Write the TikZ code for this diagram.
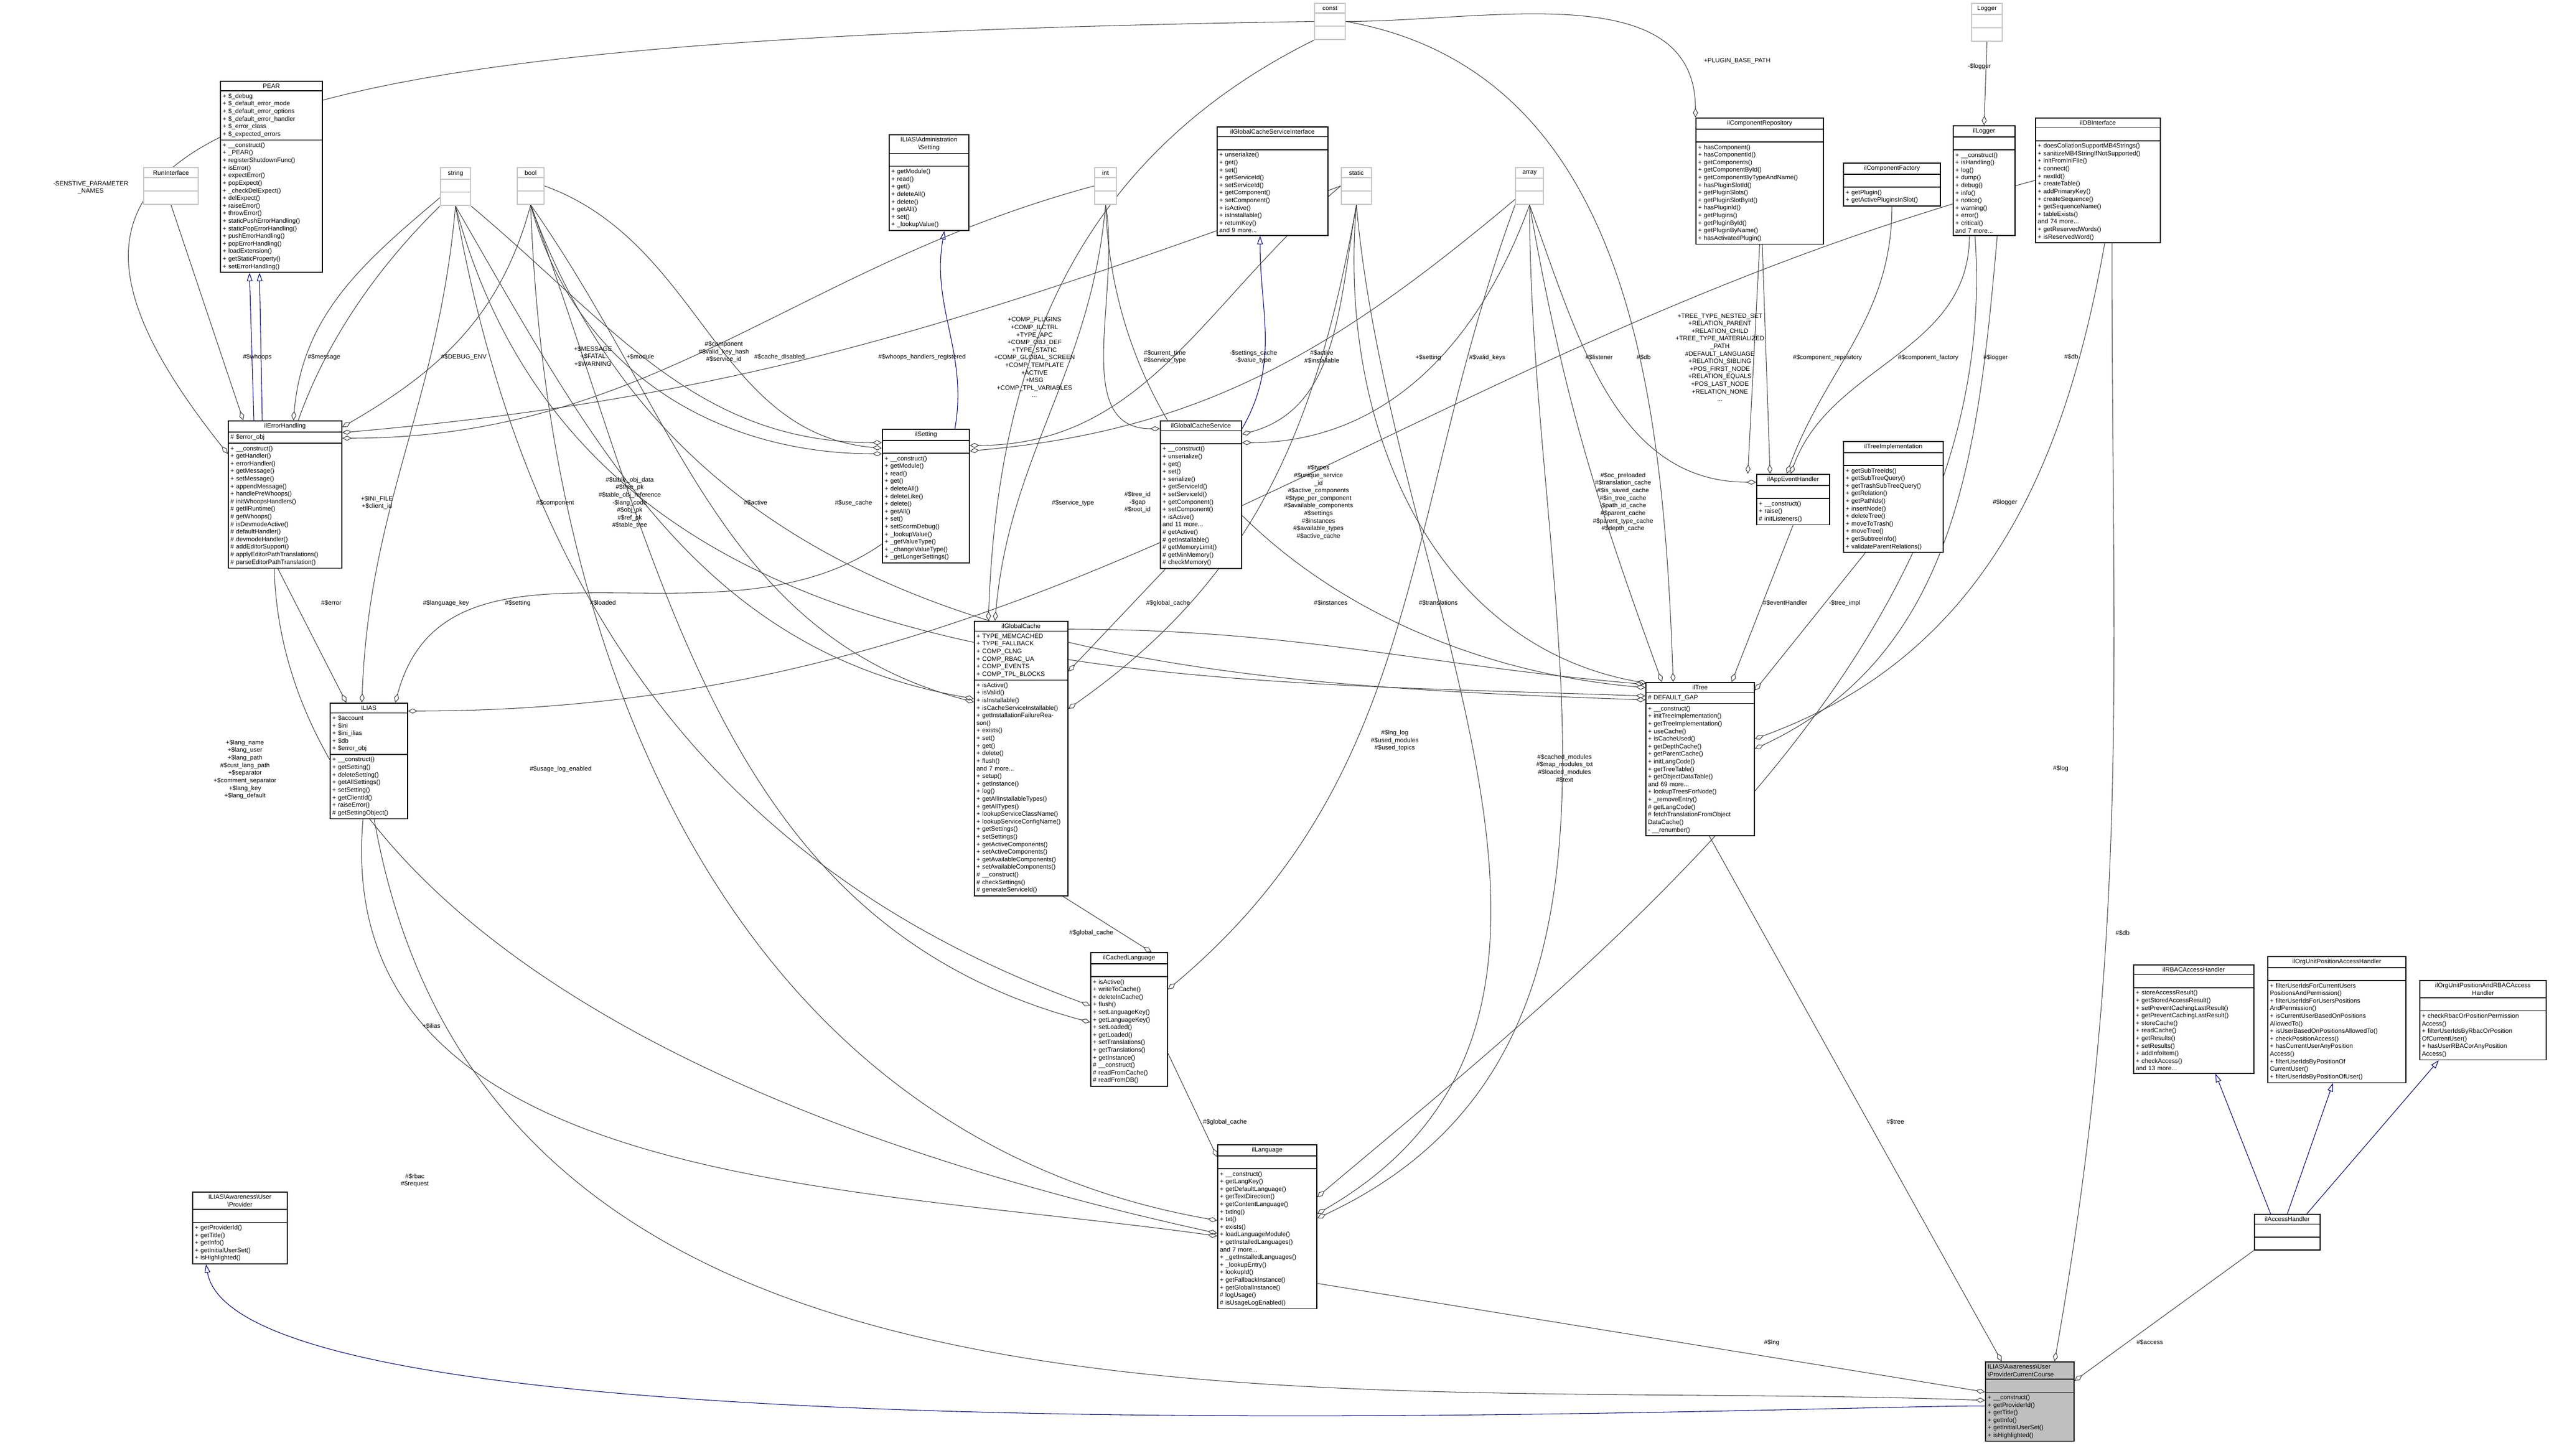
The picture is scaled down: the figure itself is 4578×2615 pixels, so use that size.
\documentclass[tikz,border=0pt]{standalone}
\usepackage{fontspec}
\setmainfont{Liberation Sans}
\usetikzlibrary{shapes.multipart,arrows.meta,calc}
\pgfdeclarelayer{background}
\pgfsetlayers{background,main}
\newcommand\dfont{\fontsize{3.2}{3.87}\selectfont}
\newcommand\hd[1]{{\centering #1\par}}

\tikzset{
  cls/.style={draw, line width=0.45pt, rectangle split, rectangle split parts=3,
    anchor=north west, text width=#1, align=left, inner xsep=0.04cm,
    inner ysep=0.04cm, font=\dfont, fill=white},
  prim/.style={cls=#1, draw=black!22, line width=0.6pt},
  agg/.style={draw=black!75, line width=0.3pt,
    -{Diamond[open,length=0.17cm,width=0.09cm]}},
  inh/.style={draw=blue!45!black, line width=0.3pt,
    -{Triangle[open,length=0.15cm,width=0.1cm]}},
  lbl/.style={font=\dfont, align=center, inner sep=0pt}
}

\begin{document}
\begin{tikzpicture}[x=0.01cm,y=-0.01cm]
\useasboundingbox (0,0) rectangle (4578,2615);

% types without members
\node[prim=0.9cm] (rune) at (257,300) {\hd{RunInterface}\nodepart{two}\strut\nodepart{three}\strut};
\node[prim=0.46cm] (strg) at (790,300) {\hd{string}\nodepart{two}\strut\nodepart{three}\strut};
\node[prim=0.40cm] (bool) at (928,300) {\hd{bool}\nodepart{two}\strut\nodepart{three}\strut};
\node[prim=0.31cm] (intt) at (1965,300) {\hd{int}\nodepart{two}\strut\nodepart{three}\strut};
\node[prim=0.46cm] (stat) at (2408,300) {\hd{static}\nodepart{two}\strut\nodepart{three}\strut};
\node[prim=0.42cm] (arry) at (2721,300) {\hd{array}\nodepart{two}\strut\nodepart{three}\strut};
\node[prim=0.47cm] (cnst) at (2360,5) {\hd{const}\nodepart{two}\strut\nodepart{three}\strut};
\node[prim=0.47cm] (lggr) at (3540,5) {\hd{Logger}\nodepart{two}\strut\nodepart{three}\strut};

% classes
\node[cls=1.75cm] (pear) at (395,145) {\hd{PEAR}
  \nodepart{two}+ \$\_debug\\+ \$\_default\_error\_mode\\+ \$\_default\_error\_options\\+ \$\_default\_error\_handler\\+ \$\_error\_class\\+ \$\_expected\_errors
  \nodepart{three}+ \_\_construct()\\+ \_PEAR()\\+ registerShutdownFunc()\\+ isError()\\+ expectError()\\+ popExpect()\\+ \_checkDelExpect()\\+ delExpect()\\+ raiseError()\\+ throwError()\\+ staticPushErrorHandling()\\+ staticPopErrorHandling()\\+ pushErrorHandling()\\+ popErrorHandling()\\+ loadExtension()\\+ getStaticProperty()\\+ setErrorHandling()};
\node[cls=1.96cm] (errh) at (409,755) {\hd{ilErrorHandling}
  \nodepart{two}\# \$error\_obj
  \nodepart{three}+ \_\_construct()\\+ getHandler()\\+ errorHandler()\\+ getMessage()\\+ setMessage()\\+ appendMessage()\\+ handlePreWhoops()\\\# initWhoopsHandlers()\\\# getIlRuntime()\\\# getWhoops()\\\# isDevmodeActive()\\\# defaultHandler()\\\# devmodeHandler()\\\# addEditorSupport()\\\# applyEditorPathTranslations()\\\# parseEditorPathTranslation()};
\node[cls=1.31cm] (ilias) at (592,1262) {\hd{ILIAS}
  \nodepart{two}+ \$account\\+ \$ini\\+ \$ini\_ilias\\+ \$db\\+ \$error\_obj
  \nodepart{three}+ \_\_construct()\\+ getSetting()\\+ deleteSetting()\\+ getAllSettings()\\+ setSetting()\\+ getClientId()\\+ raiseError()\\\# getSettingObject()};
\node[cls=1.35cm] (admin) at (1596,241) {\hd{ILIAS\textbackslash Administration\\\textbackslash Setting}
  \nodepart{two}\strut
  \nodepart{three}+ getModule()\\+ read()\\+ get()\\+ deleteAll()\\+ delete()\\+ getAll()\\+ set()\\+ \_lookupValue()};
\node[cls=1.48cm] (sett) at (1584,770) {\hd{ilSetting}
  \nodepart{two}\strut
  \nodepart{three}+ \_\_construct()\\+ getModule()\\+ read()\\+ get()\\+ deleteAll()\\+ deleteLike()\\+ delete()\\+ getAll()\\+ set()\\+ setScormDebug()\\+ \_lookupValue()\\+ \_getValueType()\\+ \_changeValueType()\\+ \_getLongerSettings()};
\node[cls=1.91cm] (gcsi) at (2185,227) {\hd{ilGlobalCacheServiceInterface}
  \nodepart{two}\strut
  \nodepart{three}+ unserialize()\\+ get()\\+ set()\\+ getServiceId()\\+ setServiceId()\\+ getComponent()\\+ setComponent()\\+ isActive()\\+ isInstallable()\\+ returnKey()\\and 9 more...};
\node[cls=1.38cm] (gcs) at (2083,755) {\hd{ilGlobalCacheService}
  \nodepart{two}\strut
  \nodepart{three}+ \_\_construct()\\+ unserialize()\\+ get()\\+ set()\\+ serialize()\\+ getServiceId()\\+ setServiceId()\\+ getComponent()\\+ setComponent()\\+ isActive()\\and 11 more...\\\# getActive()\\\# getInstallable()\\\# getMemoryLimit()\\\# getMinMemory()\\\# checkMemory()};
\node[cls=1.60cm] (glc) at (1749,1115) {\hd{ilGlobalCache}
  \nodepart{two}+ TYPE\_MEMCACHED\\+ TYPE\_FALLBACK\\+ COMP\_CLNG\\+ COMP\_RBAC\_UA\\+ COMP\_EVENTS\\+ COMP\_TPL\_BLOCKS
  \nodepart{three}+ isActive()\\+ isValid()\\+ isInstallable()\\+ isCacheServiceInstallable()\\+ getInstallationFailureReason()\\+ exists()\\+ set()\\+ get()\\+ delete()\\+ flush()\\and 7 more...\\+ setup()\\+ getInstance()\\+ log()\\+ getAllInstallableTypes()\\+ getAllTypes()\\+ lookupServiceClassName()\\+ lookupServiceConfigName()\\+ getSettings()\\+ setSettings()\\+ getActiveComponents()\\+ setActiveComponents()\\+ getAvailableComponents()\\+ setAvailableComponents()\\\# \_\_construct()\\\# checkSettings()\\\# generateServiceId()};
\node[cls=2.21cm] (crep) at (3045,211) {\hd{ilComponentRepository}
  \nodepart{two}\strut
  \nodepart{three}+ hasComponent()\\+ hasComponentId()\\+ getComponents()\\+ getComponentById()\\+ getComponentByTypeAndName()\\+ hasPluginSlotId()\\+ getPluginSlots()\\+ getPluginSlotById()\\+ hasPluginId()\\+ getPlugins()\\+ getPluginById()\\+ getPluginByName()\\+ hasActivatedPlugin()};
\node[cls=1.66cm] (cfac) at (3310,292) {\hd{ilComponentFactory}
  \nodepart{two}\strut
  \nodepart{three}+ getPlugin()\\+ getActivePluginsInSlot()};
\node[cls=1.03cm] (ilog) at (3507,225) {\hd{ilLogger}
  \nodepart{two}\strut
  \nodepart{three}+ \_\_construct()\\+ isHandling()\\+ log()\\+ dump()\\+ debug()\\+ info()\\+ notice()\\+ warning()\\+ error()\\+ critical()\\and 7 more...};
\node[cls=2.16cm] (dbi) at (3655,211) {\hd{ilDBInterface}
  \nodepart{two}\strut
  \nodepart{three}+ doesCollationSupportMB4Strings()\\+ sanitizeMB4StringIfNotSupported()\\+ initFromIniFile()\\+ connect()\\+ nextId()\\+ createTable()\\+ addPrimaryKey()\\+ createSequence()\\+ getSequenceName()\\+ tableExists()\\and 74 more...\\+ getReservedWords()\\+ isReservedWord()};
\node[cls=1.23cm] (appe) at (3154,851) {\hd{ilAppEventHandler}
  \nodepart{two}\strut
  \nodepart{three}+ \_\_construct()\\+ raise()\\\# initListeners()};
\node[cls=1.71cm] (timp) at (3310,792) {\hd{ilTreeImplementation}
  \nodepart{two}\strut
  \nodepart{three}+ getSubTreeIds()\\+ getSubTreeQuery()\\+ getTrashSubTreeQuery()\\+ getRelation()\\+ getPathIds()\\+ insertNode()\\+ deleteTree()\\+ moveToTrash()\\+ moveTree()\\+ getSubtreeInfo()\\+ validateParentRelations()};
\node[cls=1.87cm] (tree) at (2955,1225) {\hd{ilTree}
  \nodepart{two}\# DEFAULT\_GAP
  \nodepart{three}+ \_\_construct()\\+ initTreeImplementation()\\+ getTreeImplementation()\\+ useCache()\\+ isCacheUsed()\\+ getDepthCache()\\+ getParentCache()\\+ initLangCode()\\+ getTreeTable()\\+ getObjectDataTable()\\and 69 more...\\+ lookupTreesForNode()\\+ \_removeEntry()\\\# getLangCode()\\\# fetchTranslationFromObject\\DataCache()\\- \_\_renumber()};
\node[cls=1.30cm] (cl) at (1958,1710) {\hd{ilCachedLanguage}
  \nodepart{two}\strut
  \nodepart{three}+ isActive()\\+ writeToCache()\\+ deleteInCache()\\+ flush()\\+ setLanguageKey()\\+ getLanguageKey()\\+ setLoaded()\\+ getLoaded()\\+ setTranslations()\\+ getTranslations()\\+ getInstance()\\\# \_\_construct()\\\# readFromCache()\\\# readFromDB()};
\node[cls=1.70cm] (lang) at (2186,2055) {\hd{ilLanguage}
  \nodepart{two}\strut
  \nodepart{three}+ \_\_construct()\\+ getLangKey()\\+ getDefaultLanguage()\\+ getTextDirection()\\+ getContentLanguage()\\+ txtlng()\\+ txt()\\+ exists()\\+ loadLanguageModule()\\+ getInstalledLanguages()\\and 7 more...\\+ \_getInstalledLanguages()\\+ \_lookupEntry()\\+ lookupId()\\+ getFallbackInstance()\\+ getGlobalInstance()\\\# logUsage()\\\# isUsageLogEnabled()};
\node[cls=2.08cm] (rbac) at (3831,1732) {\hd{ilRBACAccessHandler}
  \nodepart{two}\strut
  \nodepart{three}+ storeAccessResult()\\+ getStoredAccessResult()\\+ setPreventCachingLastResult()\\+ getPreventCachingLastResult()\\+ storeCache()\\+ readCache()\\+ getResults()\\+ setResults()\\+ addInfoItem()\\+ checkAccess()\\and 13 more...};
\node[cls=2.40cm] (oupa) at (4072,1717) {\hd{ilOrgUnitPositionAccessHandler}
  \nodepart{two}\strut
  \nodepart{three}+ filterUserIdsForCurrentUsers\\PositionsAndPermission()\\+ filterUserIdsForUsersPositions\\AndPermission()\\+ isCurrentUserBasedOnPositions\\AllowedTo()\\+ isUserBasedOnPositionsAllowedTo()\\+ checkPositionAccess()\\+ hasCurrentUserAnyPosition\\Access()\\+ filterUserIdsByPositionOf\\CurrentUser()\\+ filterUserIdsByPositionOfUser()};
\node[cls=2.19cm] (ourb) at (4345,1760) {\hd{ilOrgUnitPositionAndRBACAccess\\Handler}
  \nodepart{two}\strut
  \nodepart{three}+ checkRbacOrPositionPermission\\Access()\\+ filterUserIdsByRbacOrPosition\\OfCurrentUser()\\+ hasUserRBACorAnyPosition\\Access()};
\node[cls=1.10cm] (acch) at (4048,2180) {\hd{ilAccessHandler}\nodepart{two}\strut\nodepart{three}\strut};
\node[cls=1.62cm] (prov) at (345,2140) {\hd{ILIAS\textbackslash Awareness\textbackslash User\\\textbackslash Provider}
  \nodepart{two}\strut
  \nodepart{three}+ getProviderId()\\+ getTitle()\\+ getInfo()\\+ getInitialUserSet()\\+ isHighlighted()};
\node[cls=1.51cm, fill=black!25] (main) at (3565,2445) {ILIAS\textbackslash Awareness\textbackslash User\\\textbackslash ProviderCurrentCourse
  \nodepart{two}\strut
  \nodepart{three}+ \_\_construct()\\+ getProviderId()\\+ getTitle()\\+ getInfo()\\+ getInitialUserSet()\\+ isHighlighted()};

% member labels
\node[lbl] (lsens) at (163,337) {-SENSTIVE\_PARAMETER\\\_NAMES};
\node[lbl] (lwhoops) at (462,641) {\#\$whoops};
\node[lbl] (lmsg) at (582,641) {\#\$message};
\node[lbl] (ldebug) at (833,641) {\#\$DEBUG\_ENV};
\node[lbl] (lfatal) at (1065,640) {+\$MESSAGE\\+\$FATAL\\+\$WARNING};
\node[lbl] (lmod) at (1150,641) {+\$module};
\node[lbl] (lcomp) at (1300,632) {\#\$component\\\#\$valid\_key\_hash\\\#\$service\_id};
\node[lbl] (lcdis) at (1400,641) {\#\$cache\_disabled};
\node[lbl] (lwhr) at (1656,641) {\#\$whoops\_handlers\_registered};
\node[lbl] (lcpl) at (1858,642) {+COMP\_PLUGINS\\+COMP\_ILCTRL\\+TYPE\_APC\\+COMP\_OBJ\_DEF\\+TYPE\_STATIC\\+COMP\_GLOBAL\_SCREEN\\+COMP\_TEMPLATE\\+ACTIVE\\+MSG\\+COMP\_TPL\_VARIABLES\\...};
\node[lbl] (lctime) at (2092,641) {\#\$current\_time\\\#\$service\_type};
\node[lbl] (lscache) at (2251,641) {-\$settings\_cache\\-\$value\_type};
\node[lbl] (lact) at (2374,641) {\#\$active\\\#\$installable};
\node[lbl] (lsetg) at (2565,642) {+\$setting};
\node[lbl] (lvkeys) at (2671,642) {\#\$valid\_keys};
\node[lbl] (llist) at (2872,642) {\#\$listener};
\node[lbl] (ldb1) at (2952,642) {\#\$db};
\node[lbl] (ltt) at (3089,642) {+TREE\_TYPE\_NESTED\_SET\\+RELATION\_PARENT\\+RELATION\_CHILD\\+TREE\_TYPE\_MATERIALIZED\\\_PATH\\\#DEFAULT\_LANGUAGE\\+RELATION\_SIBLING\\+POS\_FIRST\_NODE\\+RELATION\_EQUALS\\+POS\_LAST\_NODE\\+RELATION\_NONE\\...};
\node[lbl] (lcrep) at (3282,642) {\#\$component\_repository};
\node[lbl] (lcfac) at (3463,642) {\#\$component\_factory};
\node[lbl] (llog1) at (3584,642) {\#\$logger};
\node[lbl] (ldb2) at (3720,641) {\#\$db};
\node[lbl] (lpbp) at (3120,110) {+PLUGIN\_BASE\_PATH};
\node[lbl] (llgr) at (3555,120) {-\$logger};
\node[lbl] (lini) at (677,903) {+\$INI\_FILE\\+\$client\_id};
\node[lbl] (lcomp2) at (997,903) {\#\$component};
\node[lbl] (ltab) at (1131,903) {\#\$table\_obj\_data\\\#\$tree\_pk\\\#\$table\_obj\_reference\\-\$lang\_code\\\#\$obj\_pk\\\#\$ref\_pk\\\#\$table\_tree};
\node[lbl] (lact2) at (1357,903) {\#\$active};
\node[lbl] (lusec) at (1533,903) {\#\$use\_cache};
\node[lbl] (lstype) at (1927,903) {\#\$service\_type};
\node[lbl] (ltid) at (2043,902) {\#\$tree\_id\\-\$gap\\\#\$root\_id};
\node[lbl] (ltypes) at (2368,902) {\#\$types\\\#\$unique\_service\\\_id\\\#\$active\_components\\\#\$type\_per\_component\\\#\$available\_components\\\#\$settings\\\#\$instances\\\#\$available\_types\\\#\$active\_cache};
\node[lbl] (loc) at (2915,902) {\#\$oc\_preloaded\\\#\$translation\_cache\\\#\$is\_saved\_cache\\\#\$in\_tree\_cache\\-\$path\_id\_cache\\\#\$parent\_cache\\\#\$parent\_type\_cache\\\#\$depth\_cache};
\node[lbl] (llog2) at (3601,902) {\#\$logger};
\node[lbl] (lerr) at (595,1083) {\#\$error};
\node[lbl] (llkey) at (801,1083) {\#\$language\_key};
\node[lbl] (lsetg2) at (930,1083) {\#\$setting};
\node[lbl] (lload) at (1083,1083) {\#\$loaded};
\node[lbl] (lgc1) at (2098,1083) {\#\$global\_cache};
\node[lbl] (linst) at (2390,1083) {\#\$instances};
\node[lbl] (ltrans) at (2583,1083) {\#\$translations};
\node[lbl] (levh) at (3206,1083) {\#\$eventHandler};
\node[lbl] (ltimp) at (3313,1083) {-\$tree\_impl};
\node[lbl] (llngl) at (2505,1330) {\#\$lng\_log\\\#\$used\_modules\\\#\$used\_topics};
\node[lbl] (lcmod) at (2810,1380) {\#\$cached\_modules\\\#\$map\_modules\_txt\\\#\$loaded\_modules\\\#\$text};
\node[lbl] (llog3) at (3701,1380) {\#\$log};
\node[lbl] (llangn) at (440,1382) {+\$lang\_name\\+\$lang\_user\\+\$lang\_path\\\#\$cust\_lang\_path\\+\$separator\\+\$comment\_separator\\+\$lang\_key\\+\$lang\_default};
\node[lbl] (lusage) at (1007,1381) {\#\$usage\_log\_enabled};
\node[lbl] (lgc2) at (1960,1675) {\#\$global\_cache};
\node[lbl] (ldb3) at (3812,1676) {\#\$db};
\node[lbl] (lilias) at (775,1843) {+\$ilias};
\node[lbl] (lrbac) at (745,2120) {\#\$rbac\\\#\$request};
\node[lbl] (lgc3) at (2200,2015) {\#\$global\_cache};
\node[lbl] (ltree) at (3404,2015) {\#\$tree};
\node[lbl] (llng) at (3182,2411) {\#\$lng};
\node[lbl] (lacc) at (3861,2411) {\#\$access};

\begin{pgfonlayer}{background}
% inheritance
\draw[inh] ($(errh.north west)+(47,0)$) -- ($(pear.south west)+(53,0)$);
\draw[inh] ($(errh.north west)+(62,0)$) -- ($(pear.south west)+(71,0)$);
\draw[inh] ($(sett.north west)+(131,0)$) to[out=80,in=-100] ($(admin.south west)+(100,0)$);
\draw[inh] ($(gcs.north east)+(0,15)$) to[out=60,in=-90] ($(gcsi.south west)+(78,0)$);
\draw[inh] ($(acch.north west)+(30,0)$) -- ($(rbac.south west)+(148,0)$);
\draw[inh] ($(acch.north west)+(60,0)$) -- ($(oupa.south west)+(118,0)$);
\draw[inh] ($(acch.north west)+(95,0)$) -- ($(ourb.south west)+(35,0)$);
\draw[inh] ($(main.north west)+(0,80)$) to[out=180,in=-80,looseness=0.3] ($(prov.south west)+(25,0)$);

% members of ilErrorHandling and ILIAS
\draw[agg] (rune.south) -- ($(errh.north west)+(28,0)$);
\draw[agg] ($(strg.south west)+(0,-15)$) to[out=220,in=85] ($(errh.north west)+(118,0)$);
\draw[agg] (bool.south) to[out=-105,in=30] ($(errh.north east)+(0,12)$);
\draw[agg] (cnst.west) .. controls (300,70) and (-40,250) .. ($(errh.north west)+(0,60)$);
\draw[agg] (stat.west) to[out=200,in=5] ($(errh.north east)+(0,22)$);
\draw[agg] (intt.west) to[out=195,in=0] ($(errh.north east)+(0,32)$);
\draw[agg] ($(errh.south west)+(90,0)$) -- ($(ilias.north west)+(30,0)$);
\draw[agg] (strg.south) to[out=-95,in=88] ($(ilias.north west)+(58,0)$);
\draw[agg] ($(sett.south west)+(0,-35)$) to[out=215,in=75] ($(ilias.north west)+(118,0)$);

% members of ilSetting and ilGlobalCacheService
\draw[agg] (strg.south east) to[out=-40,in=180] ($(sett.north west)+(0,25)$);
\draw[agg] (bool.east) to[out=-20,in=175] ($(sett.north west)+(0,35)$);
\draw[agg] (bool.south) to[out=-75,in=180] ($(sett.north west)+(0,45)$);
\draw[agg] (stat.west) to[out=220,in=0] ($(sett.north east)+(0,30)$);
\draw[agg] ($(arry.south west)+(0,-10)$) to[out=220,in=5] ($(sett.north east)+(0,40)$);
\draw[agg] (intt.south) to[out=-80,in=180] ($(gcs.north west)+(0,15)$);
\draw[agg] (stat.south) to[out=-100,in=15] ($(gcs.north east)+(0,25)$);
\draw[agg] (arry.south) to[out=-110,in=0] ($(gcs.north east)+(0,40)$);

% members of ilGlobalCache, ilCachedLanguage, ilLanguage
\draw[agg] (cnst.south west) .. controls (1900,300) and (1790,700) .. ($(glc.north west)+(26,0)$);
\draw[agg] (intt.south) to[out=-95,in=85] ($(glc.north west)+(38,0)$);
\draw[agg] (strg.south) to[out=-60,in=170] ($(glc.north west)+(0,140)$);
\draw[agg] (bool.south) to[out=-55,in=165] ($(glc.north west)+(0,146)$);
\draw[agg] ($(gcs.south west)+(10,0)$) -- ($(glc.north east)+(0,91)$);
\draw[agg] (stat.south) to[out=-100,in=35] ($(glc.north east)+(0,158)$);
\draw[agg] ($(glc.south east)+(-10,0)$) -- ($(cl.north west)+(110,0)$);
\draw[agg] (strg.south) to[out=-80,in=160] ($(cl.north west)+(0,96)$);
\draw[agg] (bool.south) to[out=-70,in=165] ($(cl.north west)+(0,126)$);
\draw[agg] (arry.south west) to[out=-110,in=40] ($(cl.north east)+(0,67)$);
\draw[agg] ($(cl.south east)+(0,-60)$) -- ($(lang.north west)+(0,23)$);
\draw[agg] (strg.south west) .. controls (250,900) and (300,1800) .. ($(lang.north west)+(0,160)$);
\draw[agg] (bool.south) to[out=-88,in=170] ($(lang.north west)+(0,137)$);
\draw[agg] ($(ilias.south west)+(60,0)$) to[out=-95,in=172] ($(lang.north west)+(0,165)$);
\draw[agg] ($(ilog.south west)+(40,0)$) .. controls (3600,1150) and (2900,1700) .. ($(lang.north east)+(0,95)$);
\draw[agg] (stat.south) to[out=-85,in=30] ($(lang.north east)+(0,125)$);
\draw[agg] (arry.south) to[out=-90,in=25] ($(lang.north east)+(0,133)$);

% members of ilTree and ilAppEventHandler
\draw[agg] (cnst.east) to[out=-10,in=92] ($(tree.north west)+(50,0)$);
\draw[agg] (intt.south) to[out=-88,in=175] ($(tree.north west)+(0,10)$);
\draw[agg] (strg.south) to[out=-75,in=178] ($(tree.north west)+(0,25)$);
\draw[agg] (bool.south) to[out=-70,in=178] ($(tree.north west)+(0,32)$);
\draw[agg] ($(glc.north east)+(0,15)$) to[out=0,in=175] ($(tree.north west)+(-2,4)$);
\draw[agg] (stat.south) to[out=-95,in=170] ($(tree.north west)+(2,2)$);
\draw[agg] (arry.south) to[out=-80,in=110] ($(tree.north west)+(30,0)$);
\draw[agg] (appe.south) -- ($(tree.north west)+(155,0)$);
\draw[agg] ($(timp.south west)+(40,0)$) -- ($(tree.north east)+(0,15)$);
\draw[agg] ($(dbi.south west)+(125,0)$) to[out=-100,in=20] ($(tree.north east)+(0,102)$);
\draw[agg] ($(ilog.south west)+(80,0)$) to[out=-95,in=25] ($(tree.north east)+(0,120)$);
\draw[agg] (arry.south) to[out=-70,in=180] ($(appe.north west)+(0,15)$);
\draw[agg] (crep.south) -- ($(appe.north west)+(-15,0)$);
\draw[agg] ($(crep.south west)+(120,0)$) -- ($(appe.north west)+(25,0)$);
\draw[agg] (cfac.south) to[out=-90,in=70] ($(appe.north west)+(55,0)$);
\draw[agg] ($(ilog.south west)+(30,0)$) to[out=-90,in=70] ($(appe.north west)+(62,0)$);
\draw[agg] (dbi.west) to[out=195,in=0] ($(ilias.north east)+(0,15)$);
\draw[agg] (cnst.east) to[out=0,in=90] ($(crep.north west)+(0,0)$);
\draw[agg] (lggr.south) -- (ilog.north);

% members of ProviderCurrentCourse
\draw[agg] ($(tree.south west)+(115,0)$) -- ($(main.north west)+(30,0)$);
\draw[agg] ($(dbi.south west)+(138,0)$) to[out=-90,in=80] ($(main.north west)+(125,0)$);
\draw[agg] (acch.south west) -- ($(main.north east)+(0,35)$);
\draw[agg] ($(lang.north east)+(0,250)$) -- ($(main.north west)+(0,55)$);
\draw[agg] ($(ilias.south west)+(80,0)$) to[out=-80,in=178] ($(main.north west)+(0,70)$);
\end{pgfonlayer}
\end{tikzpicture}
\end{document}
